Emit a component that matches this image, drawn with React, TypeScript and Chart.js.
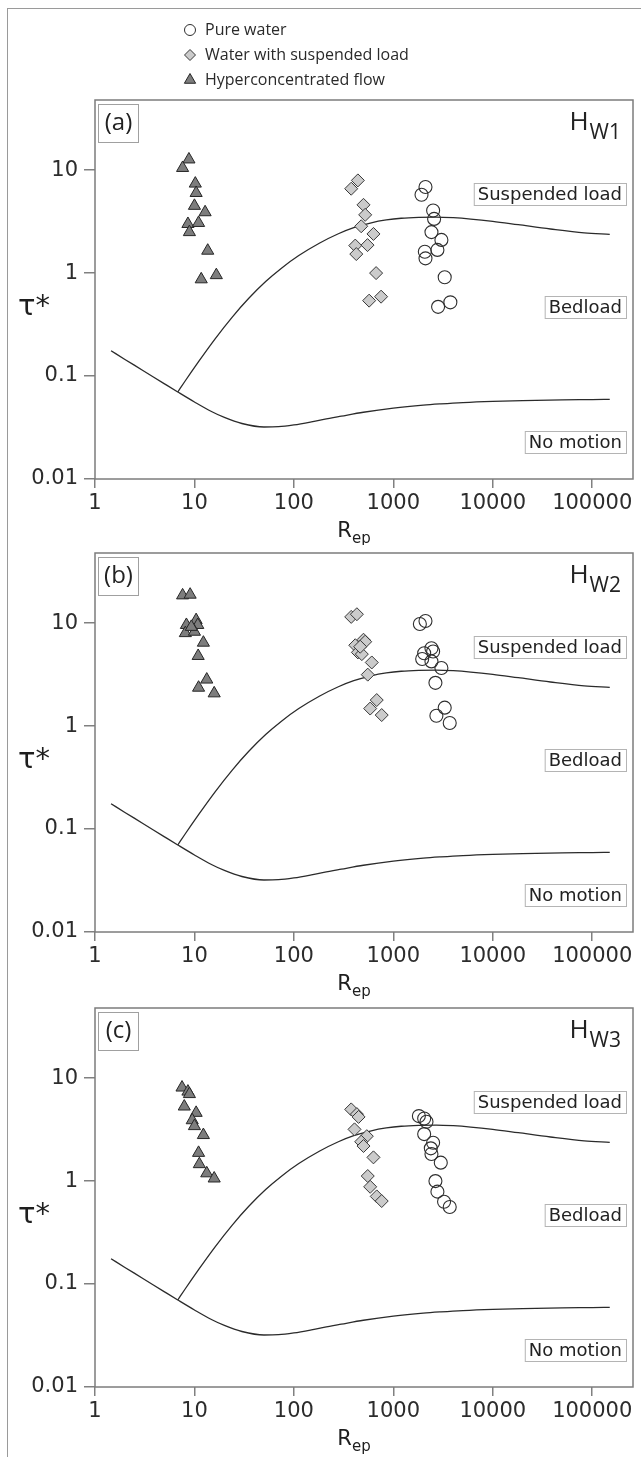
import React, { useEffect, useRef } from 'react';
import { Chart, registerables } from 'chart.js';

Chart.register(...registerables);

// ---------- axes ----------
const xTickValues = [1, 10, 100, 1000, 10000, 100000];
const xTickLabels = ['1', '10', '100', '1000', '10000', '100000'];
const yTickValues = [0.01, 0.1, 1, 10];
const yTickLabels = ['0.01', '0.1', '1', '10'];
const X_MIN = 1;
const X_MAX = 257000;
const Y_MIN = 0.01;
const Y_MAX = 48;

// ---------- threshold curves ----------
const motionRep = [1.45, 2, 3, 5, 6.8, 10, 15, 20, 30, 50, 70, 100, 150, 200, 300, 500, 1000, 2000, 3000, 5000, 10000, 20000, 50000, 100000, 150000];
const motionTau = [0.176, 0.145, 0.114, 0.084, 0.07, 0.056, 0.045, 0.0396, 0.0346, 0.032, 0.0322, 0.0335, 0.0359, 0.038, 0.0408, 0.0445, 0.0488, 0.0522, 0.0537, 0.0553, 0.0568, 0.0578, 0.0587, 0.0591, 0.0594];
const suspRep = [6.8, 8, 11, 16, 24, 35, 52, 75, 112, 180, 280, 400, 600, 850, 1200, 1800, 2700, 4000, 6000, 10000, 18000, 38000, 83000, 150000];
const suspTau = [0.07, 0.0885, 0.138, 0.2275, 0.374, 0.566, 0.828, 1.117, 1.48, 1.95, 2.41, 2.76, 3.08, 3.28, 3.41, 3.48, 3.5, 3.45, 3.35, 3.18, 2.95, 2.68, 2.46, 2.38];

// ---------- panel (a) H_W1 ----------
const aPureRep = [1920, 2105, 2512, 2570, 2417, 3043, 2775, 2073, 2105, 3285, 2818, 3744];
const aPureTau = [5.77, 6.86, 4.05, 3.36, 2.5, 2.1, 1.68, 1.61, 1.39, 0.91, 0.47, 0.52];
const aSuspRep = [377, 440, 501, 521, 475, 631, 414, 550, 424, 671, 571, 753];
const aSuspTau = [6.6, 7.95, 4.6, 3.68, 2.85, 2.4, 1.85, 1.87, 1.53, 1.0, 0.54, 0.59];
const aHyperRep = [8.8, 7.6, 10.2, 10.4, 10.0, 12.8, 8.6, 11.0, 8.9, 13.6, 11.7, 16.6];
const aHyperTau = [12.7, 10.5, 7.4, 6.0, 4.5, 3.9, 3.0, 3.07, 2.5, 1.65, 0.87, 0.955];

// ---------- panel (b) H_W2 ----------
const bPureRep = [1848, 2105, 2042, 2417, 2512, 1950, 2417, 3043, 2650, 3285, 2710, 3690];
const bPureTau = [9.8, 10.5, 5.1, 5.7, 5.3, 4.48, 4.25, 3.67, 2.63, 1.51, 1.26, 1.07];
const bSuspRep = [377, 430, 414, 501, 521, 440, 482, 464, 607, 553, 681, 585, 764];
const bSuspTau = [11.5, 12.2, 6.1, 6.9, 6.6, 5.2, 5.0, 5.9, 4.15, 3.16, 1.79, 1.48, 1.28];
const bHyperRep = [7.6, 9.05, 8.3, 10.4, 10.8, 8.1, 10.0, 9.3, 12.3, 10.9, 13.3, 11.0, 15.8];
const bHyperTau = [18.6, 18.9, 9.6, 10.7, 9.6, 8.0, 8.25, 9.2, 6.46, 4.8, 2.83, 2.36, 2.08];

// ---------- panel (c) H_W3 ----------
const cPureRep = [1806, 2042, 2154, 2042, 2512, 2382, 2417, 3000, 2650, 2775, 3236, 3690];
const cPureTau = [4.28, 4.06, 3.77, 2.86, 2.36, 2.08, 1.83, 1.51, 1.0, 0.79, 0.63, 0.56];
const cSuspRep = [377, 430, 447, 407, 541, 475, 501, 631, 553, 585, 681, 764];
const cSuspTau = [4.97, 4.47, 4.2, 3.18, 2.73, 2.41, 2.19, 1.7, 1.12, 0.88, 0.71, 0.64];
const cHyperRep = [7.5, 8.6, 8.9, 7.9, 10.4, 9.5, 10.0, 12.3, 11.0, 11.2, 13.3, 15.8];
const cHyperTau = [8.1, 7.4, 7.0, 5.3, 4.6, 3.9, 3.42, 2.8, 1.88, 1.46, 1.19, 1.06];

// ---------- texts ----------
const legendLabels = ['Pure water', 'Water with suspended load', 'Hyperconcentrated flow'];
const panelTags = ['(a)', '(b)', '(c)'];
const panelSubs = ['W1', 'W2', 'W3'];
const regionLabels = ['Suspended load', 'Bedload', 'No motion'];
const regionOffsets = [94, 207, 342];

const pureRepAll = [aPureRep, bPureRep, cPureRep];
const pureTauAll = [aPureTau, bPureTau, cPureTau];
const suspRepAll = [aSuspRep, bSuspRep, cSuspRep];
const suspTauAll = [aSuspTau, bSuspTau, cSuspTau];
const hyperRepAll = [aHyperRep, bHyperRep, cHyperRep];
const hyperTauAll = [aHyperTau, bHyperTau, cHyperTau];

// layout of the three canvases (page coordinates)
const layouts = [
  { top: 8, height: 537, padTop: 92, axisH: 66 },
  { top: 545, height: 455, padTop: 8, axisH: 68 },
  { top: 1000, height: 457, padTop: 8, axisH: 70 },
];

const SANS = '"DejaVu Sans"';
const OPEN = '"Open Sans"';

const STYLE = {
  pure: { style: 'circle', r: 6.5, fill: 'rgba(255,255,255,0)', stroke: '#2e2e2e' },
  susp: { style: 'rectRot', r: 6.5, fill: '#cbcbcb', stroke: '#383838' },
  hyper: { style: 'triangle', r: 7, fill: '#7d7d7d', stroke: '#262626' },
};

function pts(xs: number[], ys: number[]) {
  return xs.map((x, i) => ({ x, y: ys[i] }));
}

function drawMarker(ctx: CanvasRenderingContext2D, kind: string, x: number, y: number, r: number, fill: string, stroke: string) {
  ctx.beginPath();
  if (kind === 'circle') {
    ctx.arc(x, y, r, 0, Math.PI * 2);
  } else if (kind === 'rectRot') {
    ctx.moveTo(x, y - r);
    ctx.lineTo(x + r, y);
    ctx.lineTo(x, y + r);
    ctx.lineTo(x - r, y);
    ctx.closePath();
  } else {
    for (let k = 0; k < 3; k++) {
      const a = (k * 2 * Math.PI) / 3;
      const px = x + Math.sin(a) * r;
      const py = y - Math.cos(a) * r;
      if (k === 0) ctx.moveTo(px, py);
      else ctx.lineTo(px, py);
    }
    ctx.closePath();
  }
  ctx.fillStyle = fill;
  ctx.fill();
  ctx.strokeStyle = stroke;
  ctx.lineWidth = 1;
  ctx.stroke();
}

function makeAnnot(idx: number) {
  return {
    id: 'annot' + idx,
    afterDraw(chart: any) {
      const ctx: CanvasRenderingContext2D = chart.ctx;
      const a = chart.chartArea;
      ctx.save();
      // frame
      ctx.strokeStyle = '#7c7c7c';
      ctx.lineWidth = 1.5;
      ctx.strokeRect(a.left, a.top, a.right - a.left, a.bottom - a.top);

      // panel tag
      ctx.strokeStyle = '#a0a0a0';
      ctx.lineWidth = 1;
      ctx.strokeRect(a.left + 3.5, a.top + 4.5, 40, 38);
      ctx.fillStyle = '#222';
      ctx.font = `24px ${OPEN}`;
      ctx.textAlign = 'center';
      ctx.textBaseline = 'middle';
      ctx.fillText(panelTags[idx], a.left + 23.5, a.top + 23);

      // H_W label
      ctx.textBaseline = 'alphabetic';
      ctx.textAlign = 'left';
      ctx.font = `21px ${OPEN}`;
      const subW = ctx.measureText(panelSubs[idx]).width;
      ctx.font = `26px ${OPEN}`;
      const hW = ctx.measureText('H').width;
      const right = a.right - 12;
      ctx.fillText('H', right - subW - hW - 1, a.top + 30);
      ctx.font = `21px ${OPEN}`;
      ctx.fillText(panelSubs[idx], right - subW, a.top + 39);

      // region labels
      ctx.font = `18px ${SANS}`;
      regionLabels.forEach((t, i) => {
        const w = ctx.measureText(t).width;
        const cy = a.top + regionOffsets[i];
        const bx = a.right - 7 - w - 8;
        ctx.strokeStyle = '#b4b4b4';
        ctx.lineWidth = 1;
        ctx.fillStyle = '#fff';
        ctx.fillRect(bx, cy - 11, w + 8, 22);
        ctx.strokeRect(bx + 0.5, cy - 10.5, w + 8, 22);
        ctx.fillStyle = '#222';
        ctx.textBaseline = 'middle';
        ctx.fillText(t, bx + 4, cy + 1);
      });

      // y title tau*
      ctx.textBaseline = 'alphabetic';
      ctx.font = `29px ${SANS}`;
      ctx.fillStyle = '#1e1e1e';
      ctx.fillText('τ*', 18, (a.top + a.bottom) / 2 + 25);

      // x title R_ep
      ctx.font = `21px ${SANS}`;
      const rW = ctx.measureText('R').width;
      ctx.font = `15px ${SANS}`;
      const epW = ctx.measureText('ep').width;
      const cx = (a.left + a.right) / 2 - 10;
      const x0 = cx - (rW + epW) / 2;
      ctx.font = `21px ${SANS}`;
      ctx.fillText('R', x0, a.bottom + 58);
      ctx.font = `15px ${SANS}`;
      ctx.fillText('ep', x0 + rW, a.bottom + 64);

      // legend (top panel only)
      if (idx === 0) {
        const kinds = [STYLE.pure, STYLE.susp, STYLE.hyper];
        ctx.font = `16px ${OPEN}`;
        ctx.textBaseline = 'middle';
        kinds.forEach((k, i) => {
          const y = 22 + i * 25;
          drawMarker(ctx, k.style, 190, y, k.style === 'triangle' ? 6.5 : 5.5, k.style === 'circle' ? '#fff' : k.fill, k.stroke);
          ctx.fillStyle = '#2a2a2a';
          ctx.fillText(legendLabels[i], 205, y);
        });
      }
      ctx.restore();
    },
  };
}

function Panel({ idx }: { idx: number }) {
  const ref = useRef<HTMLCanvasElement>(null);
  const L = layouts[idx];
  useEffect(() => {
    if (!ref.current) return;
    const curveStyle = {
      showLine: true,
      pointRadius: 0,
      borderColor: '#2b2b2b',
      borderWidth: 1.3,
      cubicInterpolationMode: 'monotone' as const,
      fill: false,
      order: 5,
    };
    const chart = new Chart(ref.current, {
      type: 'scatter',
      data: {
        datasets: [
          {
            label: legendLabels[0],
            data: pts(pureRepAll[idx], pureTauAll[idx]),
            pointStyle: STYLE.pure.style as any,
            pointRadius: STYLE.pure.r,
            backgroundColor: STYLE.pure.fill,
            borderColor: STYLE.pure.stroke,
            borderWidth: 1.1,
            order: 1,
          },
          {
            label: legendLabels[1],
            data: pts(suspRepAll[idx], suspTauAll[idx]),
            pointStyle: STYLE.susp.style as any,
            pointRadius: STYLE.susp.r,
            backgroundColor: STYLE.susp.fill,
            borderColor: STYLE.susp.stroke,
            borderWidth: 1,
            order: 2,
          },
          {
            label: legendLabels[2],
            data: pts(hyperRepAll[idx], hyperTauAll[idx]),
            pointStyle: STYLE.hyper.style as any,
            pointRadius: STYLE.hyper.r,
            backgroundColor: STYLE.hyper.fill,
            borderColor: STYLE.hyper.stroke,
            borderWidth: 1,
            order: 3,
          },
          { label: 'Incipient motion', data: pts(motionRep, motionTau), ...curveStyle },
          { label: 'Suspension', data: pts(suspRep, suspTau), ...curveStyle },
        ],
      },
      options: {
        responsive: false,
        maintainAspectRatio: false,
        animation: false,
        devicePixelRatio: 1,
        layout: { padding: { top: L.padTop, right: 5, left: 0, bottom: 0 } },
        plugins: { legend: { display: false }, tooltip: { enabled: false }, title: { display: false } },
        scales: {
          x: {
            type: 'logarithmic',
            min: X_MIN,
            max: X_MAX,
            afterBuildTicks: (s: any) => {
              s.ticks = xTickValues.map((v) => ({ value: v }));
            },
            afterFit: (s: any) => {
              s.height = L.axisH;
              s.paddingLeft = 0;
              s.paddingRight = 0;
            },
            ticks: {
              autoSkip: false,
              maxRotation: 0,
              padding: 3,
              color: '#2c2c2c',
              font: { family: SANS, size: 21 },
              callback: (v: any) => {
                const i = xTickValues.indexOf(Number(v));
                return i >= 0 ? xTickLabels[i] : '';
              },
            },
            grid: { display: true, drawOnChartArea: false, drawTicks: true, tickLength: 9, color: '#808080', lineWidth: 1.5 },
            border: { display: false },
          },
          y: {
            type: 'logarithmic',
            min: Y_MIN,
            max: Y_MAX,
            afterBuildTicks: (s: any) => {
              s.ticks = yTickValues.map((v) => ({ value: v }));
            },
            afterFit: (s: any) => {
              s.width = 95;
              s.paddingTop = 0;
              s.paddingBottom = 0;
            },
            ticks: {
              autoSkip: false,
              padding: 6,
              color: '#2c2c2c',
              font: { family: SANS, size: 21 },
              callback: (v: any) => {
                const i = yTickValues.indexOf(Number(v));
                return i >= 0 ? yTickLabels[i] : '';
              },
            },
            grid: { display: true, drawOnChartArea: false, drawTicks: true, tickLength: 11, color: '#808080', lineWidth: 1.5 },
            border: { display: false },
          },
        },
      },
      plugins: [makeAnnot(idx)],
    } as any);
    return () => chart.destroy();
  }, [idx]);
  return (
    <canvas
      ref={ref}
      width={641}
      height={L.height}
      style={{ position: 'absolute', left: 0, top: L.top, width: 641, height: L.height, display: 'block' }}
    />
  );
}

export default function App() {
  return (
    <div style={{ position: 'fixed', left: 0, top: 0, width: 641, height: 1457, overflow: 'hidden', background: '#fff' }}>
      <div
        style={{
          position: 'absolute',
          left: 7,
          top: 8,
          width: 700,
          height: 1500,
          borderTop: '1px solid #9a9a9a',
          borderLeft: '1px solid #9a9a9a',
        }}
      />
      {[0, 1, 2].map((i) => (
        <Panel key={i} idx={i} />
      ))}
    </div>
  );
}
